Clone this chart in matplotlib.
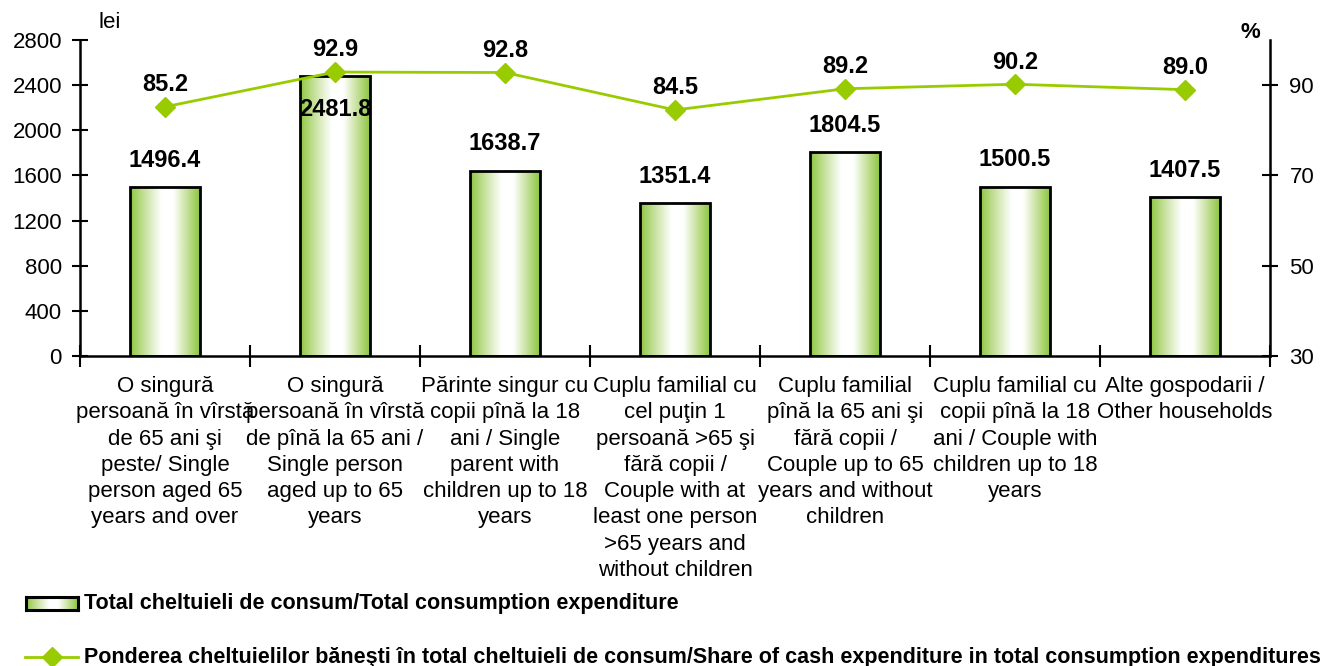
import numpy as np
import matplotlib
matplotlib.use("Agg")
import matplotlib.pyplot as plt
import matplotlib.transforms as mtransforms
from matplotlib.colors import LinearSegmentedColormap
from matplotlib.lines import Line2D

plt.rcParams['font.family'] = ['Liberation Sans', 'DejaVu Sans']

categories = [
    "O singură\npersoană în vîrstă\nde 65 ani şi\npeste/ Single\nperson aged 65\nyears and over",
    "O singură\npersoană în vîrstă\nde pînă la 65 ani /\nSingle person\naged up to 65\nyears",
    "Părinte singur cu\ncopii pînă la 18\nani / Single\nparent with\nchildren up to 18\nyears",
    "Cuplu familial cu\ncel puţin 1\npersoană >65 şi\nfără copii /\nCouple with at\nleast one person\n>65 years and\nwithout children",
    "Cuplu familial\npînă la 65 ani şi\nfără copii /\nCouple up to 65\nyears and without\nchildren",
    "Cuplu familial cu\ncopii pînă la 18\nani / Couple with\nchildren up to 18\nyears",
    "Alte gospodarii /\nOther households",
]
expenditure = [1496.4, 2481.8, 1638.7, 1351.4, 1804.5, 1500.5, 1407.5]
cash_share = [85.2, 92.9, 92.8, 84.5, 89.2, 90.2, 89.0]
left_ticks = [0, 400, 800, 1200, 1600, 2000, 2400, 2800]
right_ticks = [30, 50, 70, 90]

legend_bar = "Total cheltuieli de consum/Total consumption expenditure"
legend_line = "Ponderea cheltuielilor băneşti în total cheltuieli de consum/Share of cash expenditure in total consumption expenditures"

green_line = "#99CC00"
cmap = LinearSegmentedColormap.from_list(
    "g", [(0.0, "#8DC63F"), (0.2, "#C5E09A"), (0.45, "#FFFFFF"), (0.62, "#FFFFFF"),
          (0.82, "#C5E09A"), (1.0, "#8DC63F")], N=256)
grad = np.linspace(0, 1, 256).reshape(1, -1)

W, H = 1329, 666
fig = plt.figure(figsize=(W/100, H/100), dpi=100)
ax = fig.add_axes([80/W, 1-356/H, (1270-80)/W, (356-40)/H])
ax2 = ax.twinx()

x = np.arange(len(categories))
width = 0.41
bars = ax.bar(x, expenditure, width=width, facecolor="none", edgecolor="black", linewidth=2, zorder=3)
for b in bars:
    x0, y0 = b.get_x(), b.get_y()
    w, h = b.get_width(), b.get_height()
    im = ax.imshow(grad, cmap=cmap, extent=[x0, x0 + w, y0, y0 + h], aspect="auto", zorder=2,
                   interpolation="bicubic")
    im.set_clip_path(b)

ax.set_xlim(-0.5, len(categories) - 0.5)
ax.set_ylim(0, 2800)
ax.set_yticks(left_ticks)
ax.set_xticks(np.arange(len(categories) + 1) - 0.5)
ax.set_xticklabels([])
ax.tick_params(axis='x', direction='inout', length=16, width=1.5)
ax2.set_ylim(30, 100)
ax2.set_yticks(right_ticks)

for a in (ax, ax2):
    a.spines['top'].set_visible(False)
    a.tick_params(axis='y', direction='inout', length=12, width=1.5, labelsize=16)
ax.tick_params(axis='y', pad=7)
ax2.tick_params(axis='y', pad=8)
ax.spines['right'].set_visible(False)
ax2.spines['left'].set_visible(False)
ax.spines['left'].set_linewidth(1.8)
ax2.spines['right'].set_linewidth(1.8)
ax.spines['bottom'].set_linewidth(1.8)
ax2.spines['bottom'].set_visible(False)

ax2.plot(x, cash_share, color=green_line, linewidth=2, marker="D", markersize=10,
         markerfacecolor=green_line, markeredgecolor=green_line, zorder=5)

for i, v in enumerate(expenditure):
    off = -24.5 if i == 1 else 19.5
    ax.annotate(f"{v:.1f}", (x[i], v), xytext=(0, off), textcoords="offset points",
                ha="center", va="center", fontsize=17, fontweight="bold", zorder=6)
for i, v in enumerate(cash_share):
    ax2.annotate(f"{v:.1f}", (x[i], v), xytext=(0, 16), textcoords="offset points",
                 ha="center", va="center", fontsize=17, fontweight="bold")

label_tr = mtransforms.blended_transform_factory(ax.transData, fig.transFigure)
for i, c in enumerate(categories):
    ax.text(x[i], 1 - 376/H, c, transform=label_tr,
            ha="center", va="top", fontsize=16, linespacing=1.33)

fig.text(110/W, 1-23/H, "lei", fontsize=16, ha="center", va="center")
fig.text(1250/W, 1-32/H, "%", fontsize=16, fontweight="bold", ha="center", va="center")

# legend
lax = fig.add_axes([26/W, 1-610/H, 52/W, 13/H])
lax.imshow(grad, cmap=cmap, extent=[0, 1, 0, 1], aspect="auto")
for s in lax.spines.values():
    s.set_linewidth(2.2)
lax.set_xticks([])
lax.set_yticks([])
fig.text(84/W, 1-604/H, legend_bar, fontsize=15.5, fontweight="bold", ha="left", va="center")
fig.add_artist(Line2D([25/W, 78/W], [1-657/H, 1-657/H], color=green_line, linewidth=2,
                      transform=fig.transFigure))
fig.add_artist(Line2D([51.5/W], [1-657/H], color=green_line, marker="D", markersize=10,
                      transform=fig.transFigure))
fig.text(84/W, 1-657/H, legend_line, fontsize=15.5, fontweight="bold", ha="left", va="center")

fig.savefig("out.png", dpi=100)
